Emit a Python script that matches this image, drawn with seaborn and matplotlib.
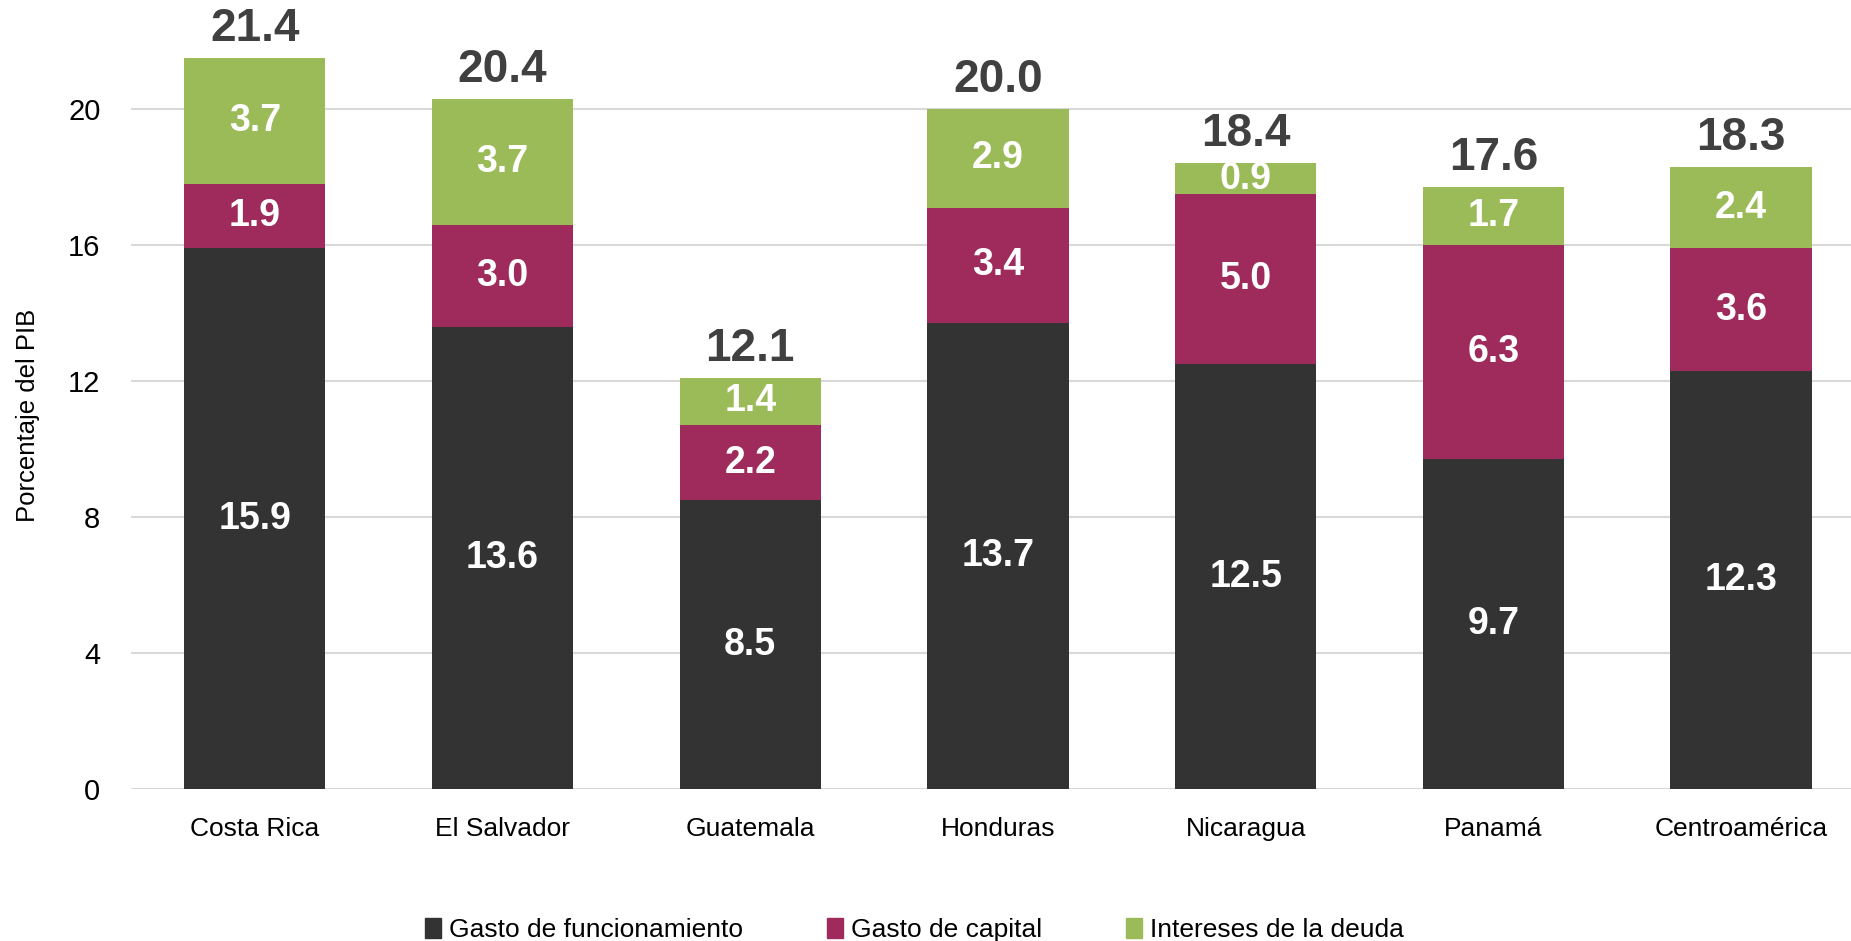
import numpy as np
import pandas as pd
import matplotlib.pyplot as plt
import seaborn as sns

paises = ['Costa Rica', 'El Salvador', 'Guatemala', 'Honduras',
          'Nicaragua', 'Panamá', 'Centroamérica']
funcionamiento = [15.9, 13.6, 8.5, 13.7, 12.5, 9.7, 12.3]
capital = [1.9, 3.0, 2.2, 3.4, 5.0, 6.3, 3.6]
intereses = [3.7, 3.7, 1.4, 2.9, 0.9, 1.7, 2.4]
totales = [21.4, 20.4, 12.1, 20.0, 18.4, 17.6, 18.3]

series = ['Gasto de funcionamiento', 'Gasto de capital', 'Intereses de la deuda']
colores = ['#333333', '#9E2B5B', '#9BBB59']

df = pd.DataFrame({'pais': paises, 'func': funcionamiento,
                   'cap': capital, 'int': intereses})
df['nivel1'] = df['func']
df['nivel2'] = df['func'] + df['cap']
df['nivel3'] = df['nivel2'] + df['int']

sns.set_style('white')
plt.rcParams['font.family'] = ['Liberation Sans', 'DejaVu Sans']
plt.rcParams['text.color'] = 'black'
plt.rcParams['xtick.color'] = 'black'
plt.rcParams['ytick.color'] = 'black'
plt.rcParams['axes.labelcolor'] = 'black'

fig = plt.figure(figsize=(18.51, 9.41), dpi=100)
ax = fig.add_axes([0.0708, 0.1615, 0.9292, 0.795])

w = 0.57
# stacked: draw cumulative heights, tallest first
for col, c in zip(['nivel3', 'nivel2', 'nivel1'], colores[::-1]):
    sns.barplot(data=df, x='pais', y=col, color=c, width=w, saturation=1,
                linewidth=0, ax=ax, zorder=2)

# segment labels
for i, row in df.iterrows():
    mids = [row['func'] / 2, row['func'] + row['cap'] / 2,
            row['nivel2'] + row['int'] / 2]
    for m, v in zip(mids, [row['func'], row['cap'], row['int']]):
        ax.text(i, m, f'{v:.1f}', ha='center', va='center', color='white',
                fontsize=27, fontweight='bold', zorder=3)
    ax.annotate(f'{totales[i]:.1f}', (i, row['nivel3']), xytext=(0, 5),
                textcoords='offset points', ha='center', va='bottom',
                fontsize=33, fontweight='bold', color='#404040',
                annotation_clip=False)

ax.set_ylim(0, 22)
ax.set_xlim(-0.5, 6.444)
ax.set_yticks([0, 4, 8, 12, 16, 20])
ax.yaxis.grid(True, color='#d9d9d9', linewidth=1.5, zorder=0)
ax.set_axisbelow(True)
for s in ax.spines.values():
    s.set_visible(False)
ax.tick_params(axis='y', labelsize=21, length=0, pad=22)
ax.tick_params(axis='x', labelsize=19, length=0, pad=20)
ax.set_xlabel('')
ax.set_ylabel('Porcentaje del PIB', fontsize=18.5)
ax.yaxis.set_label_coords(-0.053, 0.5)

handles = [plt.Rectangle((0, 0), 1, 1, color=c) for c in colores]
fig.legend(handles, series, loc='center', bbox_to_anchor=(0.494, 0.012),
           ncol=3, frameon=False, fontsize=19, handlelength=0.6,
           handleheight=0.8, handletextpad=0.3, columnspacing=3.2)

plt.savefig('out.png', dpi=100)
